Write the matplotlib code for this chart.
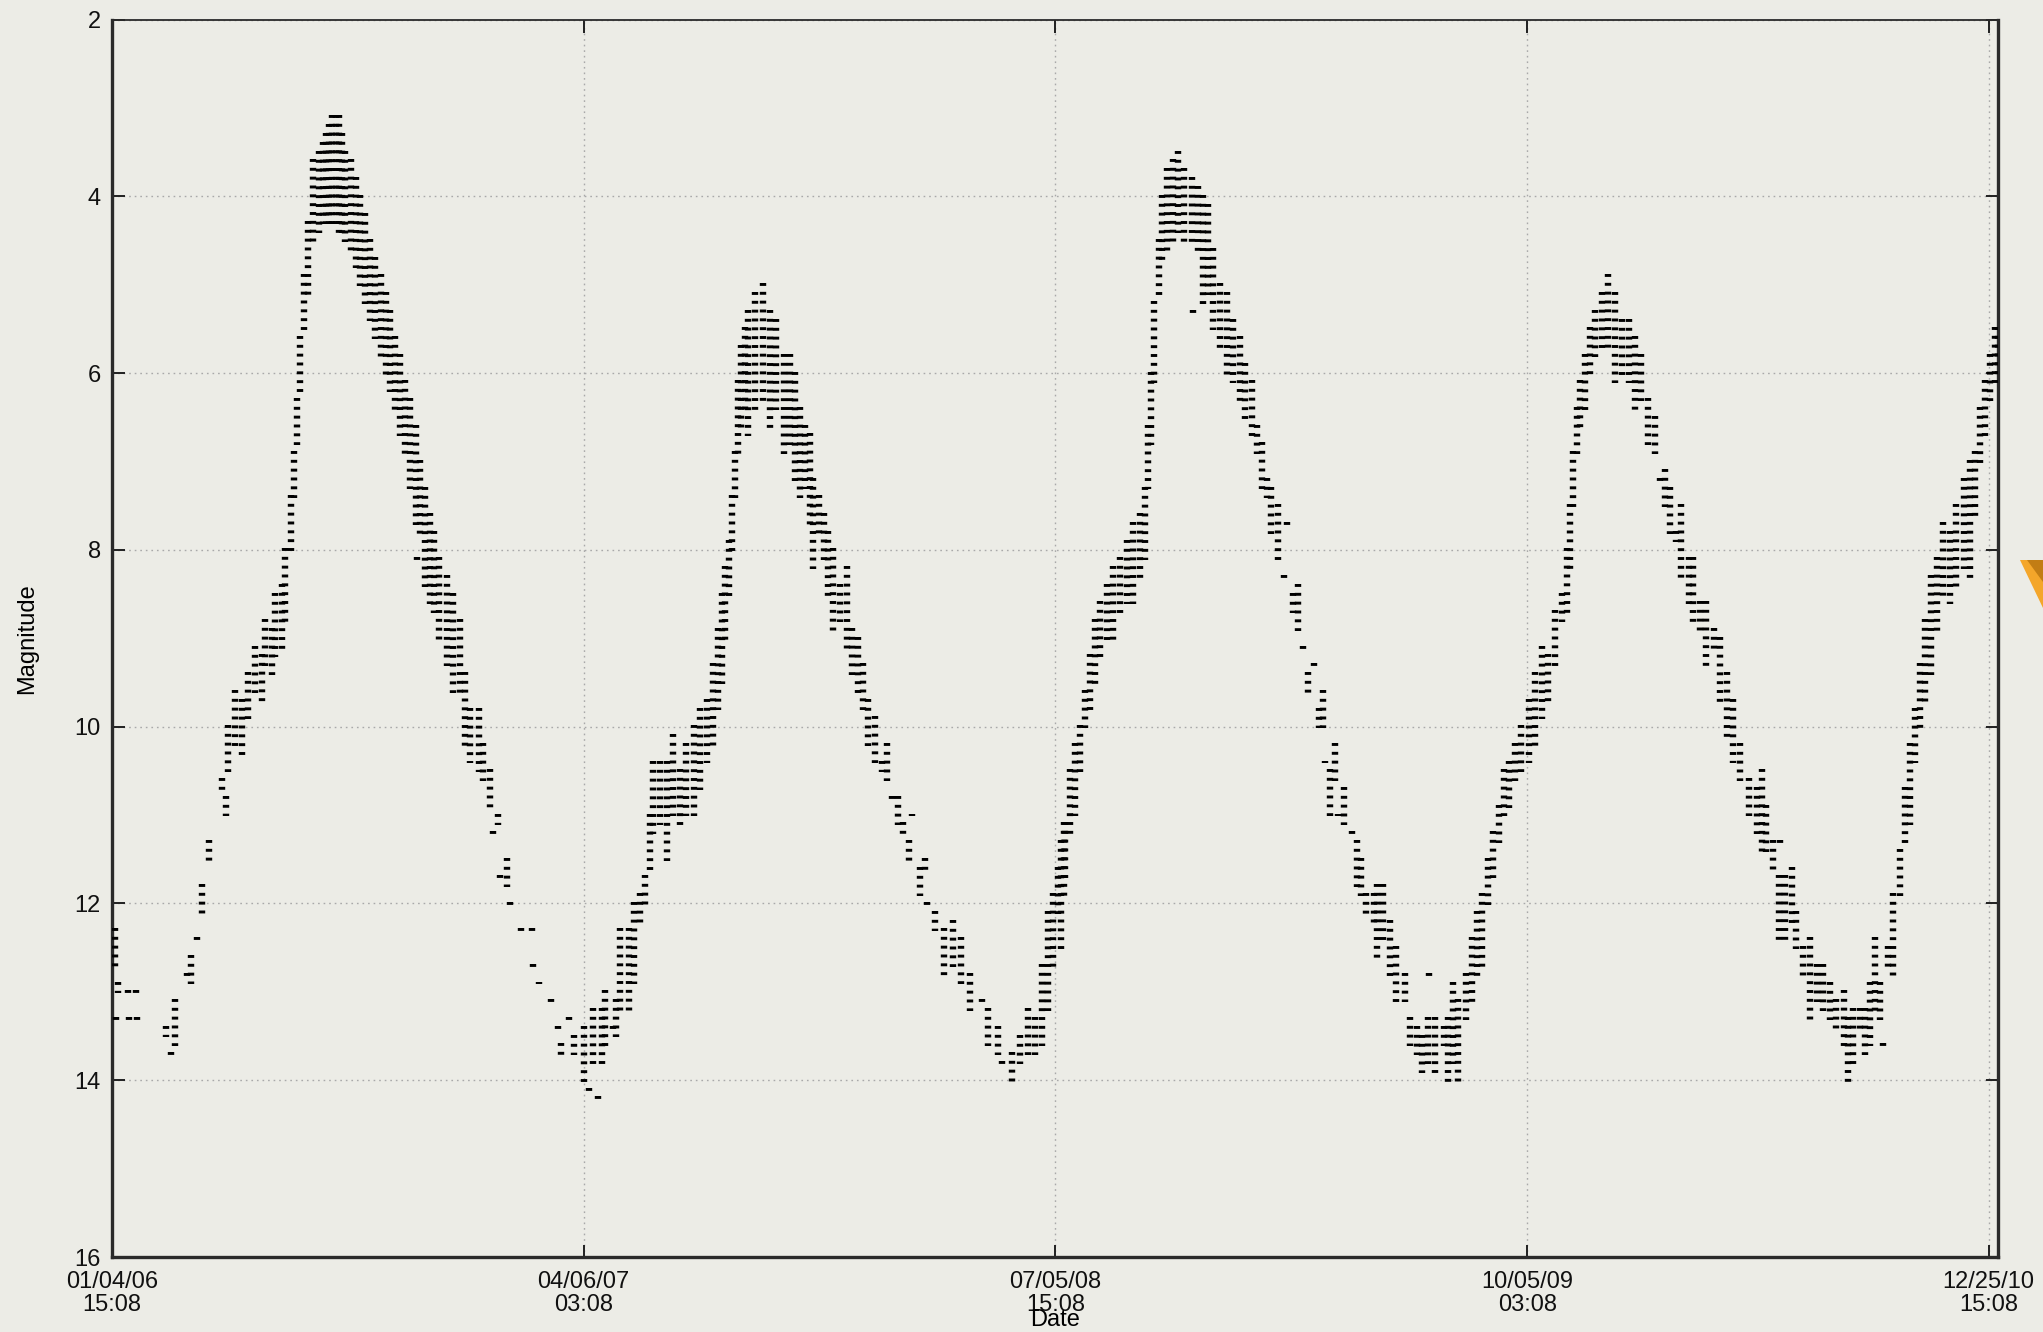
import numpy as np
import pandas as pd
import matplotlib
matplotlib.use('Agg')
import matplotlib.pyplot as plt
import matplotlib.dates as mdates
from matplotlib.patches import Polygon

# chi Cyg visual estimates, JD - 2450000.
# each entry: brightest and faintest magnitude reported around that date
obs_jd = [
    3743, 3744, 3746, 3756, 3757, 3763, 3764, 3792, 3797, 3801,
    3813, 3817, 3822, 3827, 3834, 3847, 3850, 3852, 3859, 3866,
    3872, 3879, 3885, 3888, 3895, 3898, 3905, 3908, 3913, 3916,
    3919, 3922, 3926, 3930, 3935, 3940, 3944, 3947, 3950, 3953,
    3957, 3960, 3963, 3966, 3971, 3976, 3980, 3985, 3990, 3995,
    4000, 4005, 4009, 4014, 4019, 4024, 4029, 4034, 4035, 4038,
    4043, 4048, 4052, 4057, 4064, 4070, 4077, 4082, 4087, 4095,
    4099, 4106, 4109, 4114, 4116, 4122, 4125, 4136, 4147, 4148,
    4153, 4165, 4172, 4175, 4182, 4187, 4197, 4202, 4206, 4210,
    4214, 4217, 4225, 4228, 4232, 4240, 4245, 4251, 4256, 4261,
    4264, 4270, 4277, 4283, 4290, 4296, 4303, 4309, 4316, 4322,
    4327, 4330, 4333, 4337, 4340, 4343, 4346, 4349, 4353, 4356,
    4362, 4370, 4377, 4383, 4390, 4396, 4401, 4406, 4411, 4416,
    4419, 4424, 4429, 4433, 4438, 4445, 4451, 4456, 4462, 4467,
    4472, 4479, 4485, 4490, 4495, 4501, 4506, 4511, 4514, 4522,
    4527, 4529, 4537, 4545, 4554, 4562, 4570, 4582, 4588, 4598,
    4601, 4611, 4619, 4627, 4633, 4640, 4646, 4651, 4656, 4659,
    4661, 4662, 4667, 4672, 4677, 4682, 4687, 4691, 4696, 4703,
    4709, 4716, 4722, 4728, 4735, 4740, 4743, 4746, 4749, 4753,
    4756, 4761, 4767, 4772, 4778, 4785, 4786, 4791, 4796, 4801,
    4806, 4812, 4819, 4825, 4832, 4837, 4843, 4848, 4853, 4858,
    4862, 4869, 4874, 4877, 4883, 4888, 4893, 4898, 4903, 4908,
    4912, 4914, 4919, 4924, 4927, 4932, 4940, 4945, 4949, 4954,
    4961, 4964, 4970, 4977, 4983, 4991, 4996, 5003, 5008, 5014,
    5015, 5020, 5029, 5033, 5038, 5043, 5050, 5056, 5061, 5066,
    5072, 5077, 5082, 5087, 5092, 5098, 5104, 5111, 5117, 5124,
    5130, 5137, 5143, 5148, 5151, 5154, 5158, 5161, 5166, 5170,
    5175, 5182, 5188, 5195, 5201, 5208, 5214, 5220, 5227, 5233,
    5238, 5243, 5248, 5254, 5259, 5266, 5270, 5277, 5283, 5290,
    5296, 5303, 5309, 5316, 5324, 5332, 5337, 5341, 5348, 5353,
    5354, 5359, 5366, 5370, 5377, 5383, 5390, 5396, 5403, 5409,
    5416, 5420, 5425, 5432, 5437, 5441, 5446, 5451, 5454, 5459,
    5464, 5470, 5475, 5480, 5485, 5490, 5495, 5500, 5506, 5512,
    5519, 5525, 5532, 5538, 5543, 5548, 5553, 5558, 5562, 5565,
]
mag_bright = [
    12.3, 13.3, 12.9, 13.0, 13.3, 13.0, 13.3, 13.4, 13.7, 13.1,
    12.8, 12.6, 12.4, 11.8, 11.3, 10.6, 10.8, 10.0, 9.6, 9.7,
    9.4, 9.1, 9.2, 8.8, 8.9, 8.5, 8.4, 8.0, 7.4, 6.9,
    6.3, 5.6, 4.9, 4.3, 3.6, 3.5, 3.4, 3.3, 3.2, 3.1,
    3.1, 3.1, 3.3, 3.5, 3.6, 3.8, 4.0, 4.2, 4.5, 4.7,
    4.9, 5.1, 5.3, 5.6, 5.8, 6.1, 6.3, 6.6, 8.1, 7.0,
    7.3, 7.6, 7.8, 8.1, 8.3, 8.5, 8.8, 9.4, 9.8, 9.8,
    10.2, 10.5, 11.2, 11.0, 11.7, 11.5, 12.0, 12.3, 12.3, 12.7,
    12.9, 13.1, 13.4, 13.6, 13.3, 13.5, 13.4, 14.1, 13.2, 14.2,
    13.2, 13.0, 13.4, 13.1, 12.3, 12.3, 12.0, 11.9, 11.7, 11.0,
    10.4, 10.4, 10.4, 10.1, 10.5, 10.2, 10.0, 9.8, 9.7, 9.3,
    8.9, 8.5, 8.2, 7.9, 7.4, 6.9, 6.1, 5.7, 5.5, 5.3,
    5.1, 5.0, 5.3, 5.4, 5.8, 5.8, 6.0, 6.4, 6.6, 6.7,
    7.2, 7.4, 7.6, 7.8, 8.0, 8.4, 8.2, 8.9, 9.0, 9.3,
    9.7, 9.9, 10.4, 10.2, 10.8, 10.8, 11.1, 11.3, 11.0, 11.6,
    11.5, 12.0, 12.1, 12.3, 12.2, 12.4, 12.8, 13.1, 13.2, 13.4,
    13.8, 13.7, 13.5, 13.2, 13.3, 12.7, 12.1, 11.9, 11.6, 11.3,
    11.1, 11.1, 10.5, 10.2, 10.0, 9.6, 9.2, 8.8, 8.6, 8.4,
    8.2, 8.1, 7.9, 7.7, 7.6, 7.3, 6.6, 6.0, 5.2, 4.5,
    4.0, 3.7, 3.6, 3.5, 3.7, 3.8, 5.3, 3.9, 4.0, 4.1,
    4.6, 5.0, 5.1, 5.4, 5.6, 5.9, 6.1, 6.6, 6.8, 7.2,
    7.3, 7.5, 8.3, 7.7, 8.5, 8.4, 9.1, 9.4, 9.3, 9.8,
    9.6, 10.4, 10.5, 10.2, 11.0, 10.7, 11.2, 11.3, 11.5, 11.9,
    11.9, 11.8, 11.8, 12.2, 12.5, 12.8, 13.3, 13.4, 13.5, 13.3,
    12.8, 13.3, 13.4, 13.3, 12.9, 13.1, 12.8, 12.4, 12.1, 11.9,
    11.5, 11.2, 10.9, 10.5, 10.4, 10.2, 10.0, 9.7, 9.4, 9.1,
    9.2, 8.7, 8.5, 8.0, 7.5, 6.9, 6.4, 6.1, 5.8, 5.5,
    5.3, 5.1, 4.9, 5.1, 5.4, 5.4, 5.6, 5.8, 6.3, 6.5,
    7.2, 7.1, 7.3, 7.8, 7.5, 8.1, 8.1, 8.6, 8.6, 8.9,
    9.0, 9.4, 9.7, 10.2, 10.6, 10.7, 10.5, 10.9, 11.3, 11.7,
    11.3, 11.7, 11.6, 12.1, 12.5, 12.4, 12.7, 12.7, 12.9, 13.1,
    13.0, 13.3, 13.2, 13.2, 13.2, 12.9, 12.4, 12.9, 13.6, 12.5,
    11.9, 11.4, 10.7, 10.2, 9.8, 9.3, 8.8, 8.3, 8.1, 7.7,
    7.8, 7.5, 7.2, 7.0, 6.9, 6.4, 6.1, 5.8, 5.5, 5.5,
]
mag_faint = [
    12.7, 13.3, 13.0, 13.0, 13.3, 13.0, 13.3, 13.5, 13.7, 13.6,
    12.8, 12.9, 12.4, 12.1, 11.5, 10.7, 11.0, 10.5, 10.2, 10.3,
    9.9, 9.6, 9.7, 9.3, 9.4, 9.2, 9.1, 8.8, 8.0, 7.4,
    6.8, 6.2, 5.5, 5.1, 4.5, 4.4, 4.3, 4.3, 4.3, 4.3,
    4.3, 4.4, 4.4, 4.5, 4.6, 4.8, 5.0, 5.2, 5.4, 5.6,
    5.8, 6.0, 6.2, 6.4, 6.7, 6.9, 7.3, 7.7, 8.1, 7.8,
    8.4, 8.6, 8.7, 9.0, 9.3, 9.6, 9.6, 10.2, 10.4, 10.5,
    10.6, 10.9, 11.2, 11.1, 11.7, 11.8, 12.0, 12.3, 12.3, 12.7,
    12.9, 13.1, 13.4, 13.7, 13.3, 13.7, 14.0, 14.1, 13.8, 14.2,
    13.8, 13.6, 13.4, 13.5, 13.2, 13.2, 12.9, 12.2, 12.0, 11.6,
    11.2, 11.1, 11.5, 11.0, 11.1, 11.0, 11.0, 10.7, 10.4, 10.2,
    9.8, 9.5, 9.0, 8.5, 8.0, 7.4, 6.9, 6.6, 6.4, 6.7,
    6.4, 6.3, 6.6, 6.4, 6.9, 6.8, 7.2, 7.4, 7.3, 7.7,
    8.2, 7.8, 8.1, 8.5, 8.9, 8.8, 9.1, 9.4, 9.6, 9.8,
    10.2, 10.4, 10.5, 10.6, 10.8, 11.1, 11.2, 11.5, 11.0, 11.9,
    11.6, 12.0, 12.3, 12.8, 12.7, 12.9, 13.2, 13.1, 13.6, 13.7,
    13.8, 14.0, 13.8, 13.7, 13.7, 13.6, 13.2, 12.7, 12.1, 12.5,
    11.9, 11.7, 11.2, 11.0, 10.5, 10.0, 9.8, 9.5, 9.2, 9.0,
    9.0, 8.7, 8.6, 8.6, 8.3, 8.1, 7.3, 6.8, 6.1, 5.1,
    4.7, 4.6, 4.5, 4.4, 4.5, 4.5, 5.3, 4.6, 5.2, 5.1,
    5.5, 5.7, 6.0, 6.1, 6.3, 6.5, 6.7, 6.9, 7.3, 7.4,
    7.8, 8.1, 8.3, 7.7, 8.7, 8.9, 9.1, 9.6, 9.3, 10.0,
    10.0, 10.4, 11.0, 10.6, 11.0, 11.1, 11.2, 11.8, 11.9, 12.1,
    12.2, 12.6, 12.4, 12.8, 13.1, 13.1, 13.6, 13.7, 13.9, 13.8,
    12.8, 13.9, 13.6, 14.0, 13.8, 14.0, 13.3, 13.1, 12.8, 12.7,
    12.0, 11.7, 11.3, 11.0, 10.9, 10.6, 10.5, 10.4, 10.2, 9.9,
    9.7, 9.3, 8.8, 8.7, 8.2, 7.5, 6.9, 6.6, 6.4, 6.0,
    5.8, 5.7, 5.7, 6.1, 6.0, 6.1, 6.4, 6.3, 6.8, 6.9,
    7.2, 7.5, 7.8, 7.9, 8.3, 8.6, 8.8, 8.9, 9.3, 9.1,
    9.7, 10.1, 10.4, 10.6, 11.0, 11.2, 11.4, 11.4, 11.6, 12.4,
    11.3, 12.4, 12.2, 12.5, 12.8, 13.3, 13.1, 13.2, 13.3, 13.4,
    13.6, 14.0, 13.8, 13.4, 13.7, 13.6, 13.2, 13.3, 13.6, 12.7,
    12.8, 11.9, 11.3, 11.1, 10.4, 10.0, 9.7, 9.4, 8.9, 8.5,
    8.6, 8.4, 8.2, 8.3, 7.6, 7.0, 6.7, 6.3, 6.1, 6.0,
]

# axis range and tick dates (JD - 2450000)
jd_start, jd_end = 3740.131, 5565.3
tick_jd = [3740.131, 4196.631, 4653.131, 5109.631, 5556.131]
mag_ticks = [2, 4, 6, 8, 10, 12, 14, 16]


def jd_to_num(jd):
    dates = pd.to_datetime(np.asarray(jd, dtype=float) + 2450000, unit='D', origin='julian')
    return mdates.date2num(dates.to_pydatetime())


bg = '#ecece6'
plt.rcParams['font.family'] = ['Liberation Sans', 'DejaVu Sans']
plt.rcParams['lines.scale_dashes'] = False

fig = plt.figure(figsize=(20.43, 13.32), dpi=100, facecolor=bg)
ax = fig.add_axes([112 / 2043, 75 / 1332, 1886 / 2043, 1237.5 / 1332])
ax.set_facecolor(bg)

ax.set_xlim(jd_to_num([jd_start])[0], jd_to_num([jd_end])[0])
ax.set_ylim(16, 2)

# estimates are quantised to 0.1 mag: dash the range bars so each dot sits on a 0.1 step
y0 = ax.transData.transform((ax.get_xlim()[0], 4.0))[1]
y1 = ax.transData.transform((ax.get_xlim()[0], 4.1))[1]
step_pt = abs(y1 - y0) * 72 / fig.dpi
dot_pt = 2.1
dot_mag = 0.1 * dot_pt / step_pt

x = jd_to_num(obs_jd)
lo = np.array(mag_bright) - dot_mag / 2
hi = np.array(mag_faint) + dot_mag / 2
ax.vlines(x, lo, hi, colors='black', linewidth=4.6,
          linestyles=[(0, (dot_pt, step_pt - dot_pt))], zorder=3)

# ticks and grid
tick_pos = jd_to_num(tick_jd)
tick_dates = pd.to_datetime(np.asarray(tick_jd) + 2450000, unit='D', origin='julian')
ax.set_xticks(tick_pos, [d.strftime('%m/%d/%y\n%H:%M') for d in tick_dates])
ax.set_yticks(mag_ticks, [str(m) for m in mag_ticks])
for lbl in ax.get_xticklabels():
    lbl.set_linespacing(1.08)

ax.tick_params(direction='in', length=9, width=1.4, color='#202020',
               top=True, right=True, labelsize=17, labelcolor='#111111')
ax.tick_params(axis='x', pad=10)
ax.tick_params(axis='y', pad=8)
ax.grid(True, color='#a9a9a9', linewidth=1.0, linestyle=(0, (1.2, 2.8)))
ax.set_axisbelow(True)

for side in ['left', 'bottom', 'right']:
    ax.spines[side].set_linewidth(2.4)
    ax.spines[side].set_color('#2a2a2a')
ax.spines['top'].set_linewidth(1.3)
ax.spines['top'].set_color('#2a2a2a')

ax.set_ylabel('Magnitude', fontsize=17, labelpad=26)
ax.set_xlabel('Date', fontsize=17)
ax.xaxis.set_label_coords(0.5, -0.051)
ax.xaxis.label.set_va('center')

# small orange marker at the right edge
W, H = 2043, 1332
outer = [(2020, 560), (2043, 560), (2043, 608)]
inner = [(2027, 560), (2043, 560), (2043, 582)]
fig.patches.append(Polygon([(px / W, 1 - py / H) for px, py in outer], closed=True,
                           transform=fig.transFigure, facecolor='#f4a62a', edgecolor='none'))
fig.patches.append(Polygon([(px / W, 1 - py / H) for px, py in inner], closed=True,
                           transform=fig.transFigure, facecolor='#c27d14', edgecolor='none'))

fig.savefig('out.png', dpi=100, facecolor=bg)
